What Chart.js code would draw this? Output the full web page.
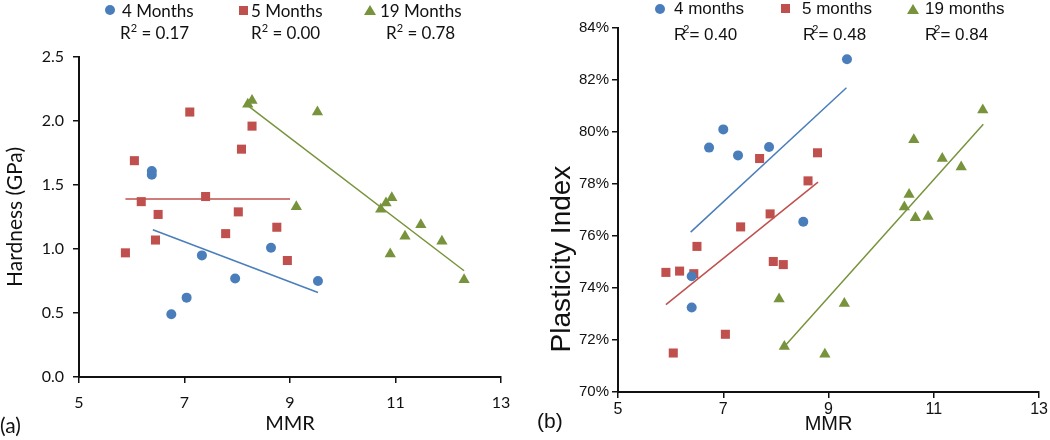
<!DOCTYPE html>
<html>
<head>
<meta charset="utf-8">
<script src="https://cdn.jsdelivr.net/npm/chart.js@4/dist/chart.umd.min.js"></script>
<style>
  html, body { margin: 0; padding: 0; background: #fff; }
  #wrap { position: relative; width: 1050px; height: 440px; overflow: hidden; }
  .box { position: absolute; top: 0; width: 525px; height: 440px; }
  .lbl { position: absolute; white-space: nowrap; color: #111; line-height: 1; }
  .a { font-family: Lato, sans-serif; font-size: 17px; }
  .b { font-family: "Liberation Sans", Arial, sans-serif; font-size: 17px; }
  .dot { position: absolute; width: 10px; height: 10px; border-radius: 50%; background: #4A7EBB; }
  .sq { position: absolute; width: 9px; height: 9px; background: #C0504D; }
  .tri { position: absolute; width: 0; height: 0; border-left: 6px solid transparent; border-right: 6px solid transparent; border-bottom: 10px solid #77933C; }
  sup { font-size: 11px; vertical-align: 7px; line-height: 0; }
  .vtitle { position: absolute; white-space: nowrap; color: #111; line-height: 1; transform: translate(-50%, -50%) rotate(-90deg); }
</style>
</head>
<body>
<div id="wrap">
  <div class="box" style="left:0"><canvas id="chartA"></canvas></div>
  <div class="box" style="left:525px"><canvas id="chartB"></canvas></div>

  <!-- legend (a) -->
  <div class="dot" style="left:105px;top:5px"></div>
  <div class="lbl a" style="left:122px;top:2px">4 Months</div>
  <div class="sq" style="left:239px;top:6px"></div>
  <div class="lbl a" style="left:251px;top:2px">5 Months</div>
  <div class="tri" style="left:364px;top:5px"></div>
  <div class="lbl a" style="left:380px;top:2px">19 Months</div>
  <div class="lbl a" style="left:120px;top:24px">R<sup>2</sup> = 0.17</div>
  <div class="lbl a" style="left:251px;top:24px">R<sup>2</sup> = 0.00</div>
  <div class="lbl a" style="left:386px;top:24px">R<sup>2</sup> = 0.78</div>
  <div class="lbl a" style="left:0;top:414px;font-size:21px">(a)</div>

  <!-- legend (b) -->
  <div class="dot" style="left:655px;top:4px"></div>
  <div class="lbl b" style="left:674px;top:0">4 months</div>
  <div class="sq" style="left:781px;top:4px"></div>
  <div class="lbl b" style="left:802px;top:0">5 months</div>
  <div class="tri" style="left:907px;top:4px"></div>
  <div class="lbl b" style="left:925px;top:0">19 months</div>
  <div class="lbl b" style="left:674px;top:26px">R<sup style="margin-left:-3px">2</sup>= 0.40</div>
  <div class="lbl b" style="left:803px;top:26px">R<sup style="margin-left:-3px">2</sup>= 0.48</div>
  <div class="lbl b" style="left:925px;top:26px">R<sup style="margin-left:-3px">2</sup>= 0.84</div>
  <div class="lbl b" style="left:537px;top:410px;font-size:21px">(b)</div>
  <div class="vtitle b" style="left:561px;top:259px;font-size:28px">Plasticity Index</div>
</div>
<script>
// (a) hardness vs MMR
const hard4x = [6.38, 6.38, 6.75, 7.04, 7.33, 7.96, 8.64, 9.53];
const hard4y = [1.61, 1.58, 0.49, 0.62, 0.95, 0.77, 1.01, 0.75];
const hard5x = [5.88, 6.05, 6.18, 6.45, 6.5, 7.1, 7.4, 7.78, 8.02, 8.08, 8.28, 8.75, 8.95];
const hard5y = [0.97, 1.69, 1.37, 1.07, 1.27, 2.07, 1.41, 1.12, 1.29, 1.78, 1.96, 1.17, 0.91];
const hard19x = [8.2, 8.28, 9.12, 9.52, 10.72, 10.82, 10.9, 10.93, 11.18, 11.48, 11.88, 12.3];
const hard19y = [2.13, 2.16, 1.33, 2.07, 1.31, 1.36, 0.96, 1.40, 1.10, 1.19, 1.06, 0.76];
// trend line ends
const hardFit4 = { x: [6.4, 9.53], y: [1.15, 0.66] };
const hardFit5 = { x: [5.88, 9.0], y: [1.39, 1.39] };
const hardFit19 = { x: [8.2, 12.3], y: [2.12, 0.83] };

// (b) plasticity index (%) vs MMR
const plas4x = [6.4, 6.4, 6.73, 7.0, 7.28, 7.87, 8.52, 9.35];
const plas4y = [74.45, 73.25, 79.4, 80.1, 79.1, 79.42, 76.55, 82.8];
const plas5x = [5.91, 6.05, 6.17, 6.44, 6.5, 7.04, 7.33, 7.69, 7.89, 7.95, 8.14, 8.61, 8.79];
const plas5y = [74.6, 71.5, 74.65, 74.55, 75.6, 72.22, 76.35, 78.98, 76.85, 75.02, 74.9, 78.12, 79.2];
const plas19x = [8.06, 8.16, 8.93, 9.3, 10.44, 10.53, 10.62, 10.65, 10.89, 11.16, 11.52, 11.93];
const plas19y = [73.58, 71.75, 71.45, 73.4, 77.12, 77.6, 79.7, 76.7, 76.75, 78.98, 78.65, 80.85];
const plasFit4 = { x: [6.38, 9.34], y: [76.15, 81.7] };
const plasFit5 = { x: [5.91, 8.8], y: [73.36, 78.07] };
const plasFit19 = { x: [8.14, 11.94], y: [71.7, 80.3] };

const xTicks = [5, 7, 9, 11, 13];

const BLUE = '#4A7EBB', RED = '#C0504D', GREEN = '#77933C';

const pts = (xs, ys) => xs.map((x, i) => ({ x, y: ys[i] }));

function markers(xs, ys, color, style, r) {
  return {
    data: pts(xs, ys), pointStyle: style, pointRadius: r,
    backgroundColor: color, borderColor: color, borderWidth: 0, order: 1
  };
}
function fitLine(fit, color) {
  return {
    data: pts(fit.x, fit.y), showLine: true, pointRadius: 0,
    borderColor: color, borderWidth: 1.5, order: 2
  };
}

function makeChart(id, cfg) {
  return new Chart(document.getElementById(id), {
    type: 'scatter',
    data: { datasets: cfg.datasets },
    options: {
      responsive: false,
      animation: false,
      layout: { padding: cfg.padding },
      plugins: { legend: { display: false }, tooltip: { enabled: false } },
      scales: {
        x: {
          type: 'linear', min: 5, max: 13,
          afterBuildTicks: s => { s.ticks = xTicks.map(v => ({ value: v })); },
          afterFit: s => { s.height = cfg.xHeight; },
          border: { color: '#111', width: 2 },
          grid: { drawOnChartArea: false, tickLength: 6, tickColor: '#111', lineWidth: 1.5 },
          ticks: { color: '#111', padding: cfg.xPad, font: { family: cfg.font, size: 16 } },
          title: { display: true, text: 'MMR', color: '#111', font: { family: cfg.font, size: 20 }, padding: { top: 0, bottom: 4 } }
        },
        y: {
          type: 'linear', min: cfg.yMin, max: cfg.yMax,
          afterFit: s => { s.width = cfg.yWidth; },
          border: { color: '#111', width: 2 },
          grid: { drawOnChartArea: false, tickLength: 6, tickColor: '#111', lineWidth: 1.5 },
          ticks: { color: '#111', stepSize: cfg.yStep, padding: cfg.yPad, callback: cfg.yFmt, font: { family: cfg.font, size: cfg.yTickSize } },
          title: { display: !!cfg.yTitle, text: cfg.yTitle, color: '#111', font: { family: cfg.font, size: cfg.yTitleSize }, padding: { top: cfg.yTitlePad, bottom: 0 } }
        }
      }
    }
  });
}

document.getElementById('chartA').width = 525;
document.getElementById('chartA').height = 440;
document.getElementById('chartB').width = 525;
document.getElementById('chartB').height = 440;

makeChart('chartA', {
  font: 'Lato',
  padding: { top: 57, right: 24, left: 0, bottom: 0 },
  xHeight: 63, yWidth: 79, xPad: 10, yPad: 9,
  yMin: 0, yMax: 2.5, yStep: 0.5, yFmt: v => v.toFixed(1), yTickSize: 16,
  yTitle: 'Hardness (GPa)', yTitleSize: 21, yTitlePad: 3,
  datasets: [
    markers(hard4x, hard4y, BLUE, 'circle', 5),
    markers(hard5x, hard5y, RED, 'rect', 6.4),
    markers(hard19x, hard19y, GREEN, 'triangle', 6.5),
    fitLine(hardFit4, BLUE),
    fitLine(hardFit5, RED),
    fitLine(hardFit19, GREEN)
  ]
});

// y title of (b) sits below centre in the reference, so it is an HTML label
makeChart('chartB', {
  font: '"Liberation Sans", Arial',
  padding: { top: 28, right: 8, left: 0, bottom: 0 },
  xHeight: 48, yWidth: 93, xPad: 2, yPad: 3,
  yMin: 70, yMax: 84, yStep: 2, yFmt: v => v + '%', yTickSize: 15,
  yTitle: '', yTitleSize: 25, yTitlePad: 15,
  datasets: [
    markers(plas4x, plas4y, BLUE, 'circle', 5),
    markers(plas5x, plas5y, RED, 'rect', 6.4),
    markers(plas19x, plas19y, GREEN, 'triangle', 6.5),
    fitLine(plasFit4, BLUE),
    fitLine(plasFit5, RED),
    fitLine(plasFit19, GREEN)
  ]
});
</script>
</body>
</html>
